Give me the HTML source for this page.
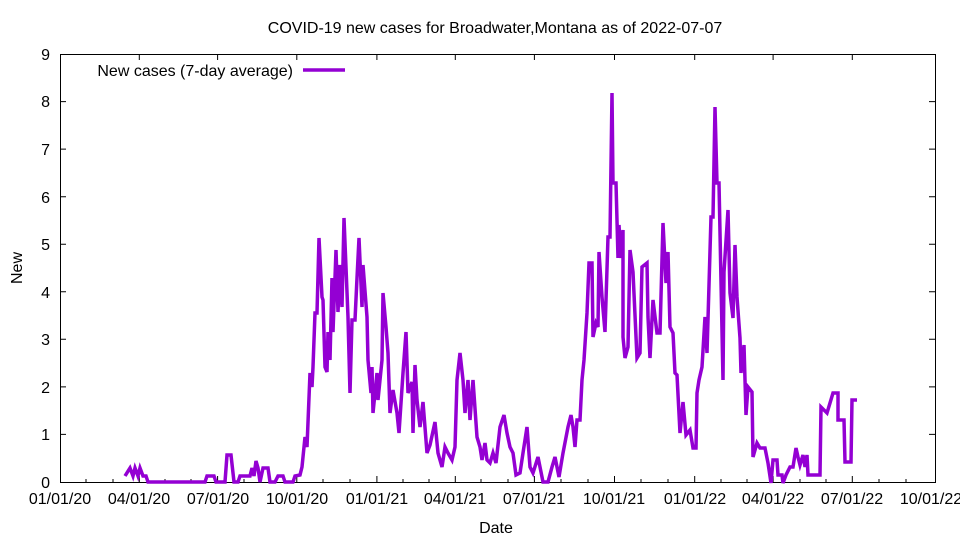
<!DOCTYPE html>
<html><head><meta charset="utf-8"><style>
body{margin:0;background:#fff}
svg{font-family:"Liberation Sans",sans-serif;font-size:16px}
</style></head><body>
<svg width="960" height="540" viewBox="0 0 960 540" xmlns="http://www.w3.org/2000/svg">
<rect width="960" height="540" fill="#fff"/>
<g stroke="#000" stroke-width="1" fill="none">
<rect x="60.5" y="54.5" width="875" height="428"/>
<path d="M60 101.6h6M935 101.6h-6M60 149.1h6M935 149.1h-6M60 196.7h6M935 196.7h-6M60 244.2h6M935 244.2h-6M60 291.8h6M935 291.8h-6M60 339.3h6M935 339.3h-6M60 386.9h6M935 386.9h-6M60 434.4h6M935 434.4h-6"/>
<path d="M139.3 482v-6M217.6 482v-6M296.8 482v-6M376.9 482v-6M455.3 482v-6M534.4 482v-6M614.5 482v-6M694.7 482v-6M773.1 482v-6M852.3 482v-6M139.3 54v6M217.6 54v6M296.8 54v6M376.9 54v6M455.3 54v6M534.4 54v6M614.5 54v6M694.7 54v6M773.1 54v6M852.3 54v6"/>
<path d="M86 482v-3M113 482v-3M165 482v-3M191 482v-3M244 482v-3M270 482v-3M323 482v-3M350 482v-3M403 482v-3M429 482v-3M481 482v-3M508 482v-3M561 482v-3M588 482v-3M641 482v-3M668 482v-3M721 482v-3M747 482v-3M800 482v-3M826 482v-3M879 482v-3M906 482v-3"/>
</g>
<g text-anchor="end">
<text x="50" y="488">0</text><text x="50" y="440">1</text><text x="50" y="393">2</text><text x="50" y="345">3</text><text x="50" y="298">4</text><text x="50" y="250">5</text><text x="50" y="203">6</text><text x="50" y="155">7</text><text x="50" y="107">8</text><text x="50" y="60">9</text>
</g>
<g text-anchor="middle">
<text x="60" y="504">01/01/20</text><text x="139" y="504">04/01/20</text><text x="218" y="504">07/01/20</text><text x="297" y="504">10/01/20</text><text x="377" y="504">01/01/21</text><text x="455" y="504">04/01/21</text><text x="534" y="504">07/01/21</text><text x="614" y="504">10/01/21</text><text x="695" y="504">01/01/22</text><text x="773" y="504">04/01/22</text><text x="852" y="504">07/01/22</text><text x="931" y="504">10/01/22</text>
<text x="496" y="533">Date</text>
<text x="495" y="33">COVID-19 new cases for Broadwater,Montana as of 2022-07-07</text>
<text transform="translate(22,268) rotate(-90)">New</text>
</g>
<text x="293" y="76" text-anchor="end">New cases (7-day average)</text>
<g stroke="#9400d3" stroke-width="3.5" fill="none" stroke-linejoin="miter">
<path d="M303 70h42"/>
<polyline points="125,476 130,468 133,476 135,468 138,476 140,468 143,476 146,476 148,482 205,482 207,476 214,476 216,482 225,482 227,455 231,455 234,482 238,482 240,476 250,476 252,468 254,476 256,461 258,468 260,482 263,468 268,468 270,482 275,482 278,476 283,476 285,482 293,482 295,476 300,475 302,467 305,437 307,447 310,373 312,387 313,367 315,313 317,313 319,238 322,297 323,300 325,367 327,372 328,332 330,360 332,278 333,332 336,250 338,312 340,265 342,307 344,218 348,317 350,393 352,320 355,320 357,278 359,238 362,307 363,265 367,317 368,360 371,393 372,367 373,413 377,373 378,400 382,360 383,293 386,327 388,353 390,413 393,390 397,413 399,433 403,373 406,332 408,393 412,382 413,433 415,365 417,400 420,427 423,402 427,453 430,445 435,422 438,453 442,467 445,447 448,453 452,460 455,447 457,380 460,353 463,380 465,413 468,380 470,420 473,380 477,437 480,447 482,460 485,443 487,460 490,463 493,453 496,463 500,427 504,415 507,433 510,447 513,453 516,475 520,473 523,453 527,427 530,467 533,473 538,457 543,482 548,482 552,467 555,457 559,477 563,453 568,427 571,415 573,427 575,447 577,420 580,420 582,380 584,360 587,313 589,263 592,263 593,337 596,323 598,327 599,252 602,297 605,332 608,237 610,237 612,93 613,183 616,183 618,258 619,225 621,258 623,230 623,337 625,358 628,347 630,250 633,272 637,358 640,353 642,267 647,263 648,317 650,358 653,300 657,333 660,333 663,223 666,283 668,252 670,327 673,333 675,373 677,375 680,433 683,402 686,435 690,430 693,448 696,448 697,393 699,380 702,367 705,317 707,353 711,217 713,217 715,107 717,183 719,183 723,380 724,272 728,210 730,293 733,318 735,245 737,297 740,338 741,373 744,345 746,415 748,387 752,392 753,457 757,443 760,448 765,448 768,463 771,483 773,460 777,460 778,475 782,475 783,483 786,475 790,467 793,467 796,448 798,457 800,465 803,455 805,467 807,455 808,475 820,475 821,407 827,413 833,393 838,393 838,420 844,420 845,462 851,462 852,400 857,400"/>
</g>
</svg>
</body></html>
